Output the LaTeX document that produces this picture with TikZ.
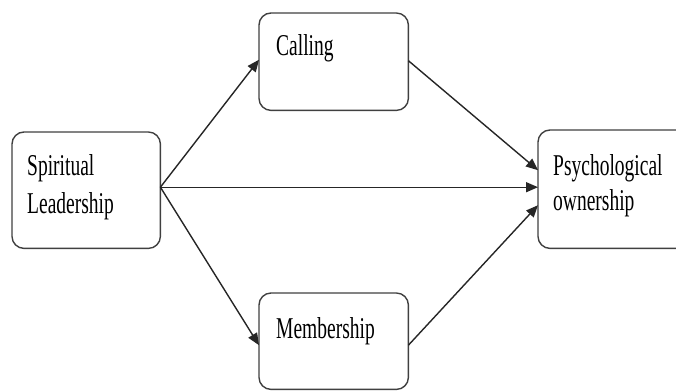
\documentclass[tikz,border=0pt]{standalone}
\usepackage{fontspec}
\setmainfont{Liberation Serif}
\usetikzlibrary{arrows.meta}
\begin{document}
\begin{tikzpicture}[x=1pt,y=-1pt,
  box/.style={draw=black!75,line width=1.4pt,rounded corners=12pt,fill=white},
  frame/.style={minimum width=#1,anchor=north west,inner sep=0pt},
  lbl/.style={anchor=base west,inner sep=0pt,font=\fontsize{19.5}{23}\selectfont},
  arr/.style={line width=1.4pt,draw=black!85,-{Triangle[length=12pt,width=10pt]}}]
\useasboundingbox (0,0) rectangle (676,391);
\node[frame=148pt,minimum height=116pt] (sp) at (12,132) {};
\draw[box] (sp.north west) rectangle (sp.south east);
\node[frame=149pt,minimum height=97pt] (ca) at (259,13) {};
\draw[box] (ca.north west) rectangle (ca.south east);
\node[frame=149pt,minimum height=96pt] (me) at (259,293) {};
\draw[box] (me.north west) rectangle (me.south east);
\node[frame=152pt,minimum height=118pt] (ps) at (538,130) {};
\draw[box] (ps.north west) rectangle (ps.south east);
\node[lbl] (t1) at (27,175) {\scalebox{1}[1.55]{Spiritual}};
\node[lbl] (t2) at (27,213) {\scalebox{1}[1.55]{Leadership}};
\node[lbl] (t3) at (276,55) {\scalebox{1}[1.55]{Calling}};
\node[lbl] (t4) at (276,338) {\scalebox{1}[1.55]{Membership}};
\node[lbl] (t5) at (553,175) {\scalebox{1}[1.55]{Psychological}};
\node[lbl] (t6) at (553,210) {\scalebox{1}[1.55]{ownership}};
\coordinate (src) at ([yshift=3pt]sp.east);
\draw[arr] (src) -- ([yshift=2pt]ca.west);
\draw[arr] (src) -- ([yshift=-4pt]me.west);
\draw[arr] (src) -- ([yshift=2pt]ps.west);
\draw[arr] ([yshift=1pt]ca.east) -- ([yshift=19pt]ps.west);
\draw[arr] ([yshift=-4pt]me.east) -- ([yshift=-16pt]ps.west);
\end{tikzpicture}
\end{document}
